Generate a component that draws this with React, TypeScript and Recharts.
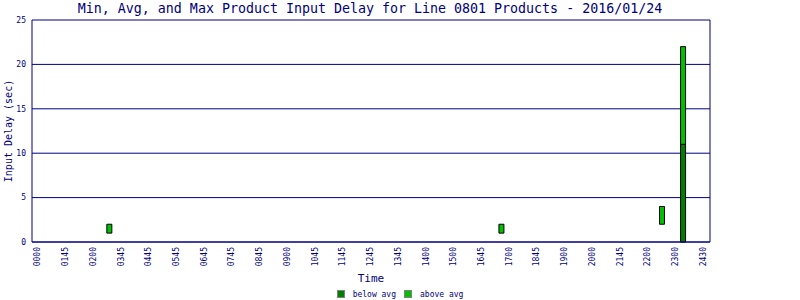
import React from 'react';
import { BarChart, Bar, XAxis, YAxis, CartesianGrid, Legend, Label } from 'recharts';

const NAVY = '#000080';
const MONO = '"DejaVu Sans Mono", monospace';

// tick labels as they appear under the x axis
const slotLabels = [
  '0000', '0145', '0200', '0345', '0445', '0545', '0645', '0745', '0845', '0900',
  '1045', '1145', '1245', '1345', '1400', '1500', '1645', '1700', '1845', '1900',
  '2000', '2145', '2200', '2300', '2430',
];

// position of each reading along the slot axis, and its delays (sec)
const slots = [2.58, 16.72, 22.51, 23.27];
const minDelay = [1, 1, 2, 0];
const avgDelay = [1, 1, 2, 11];
const maxDelay = [2, 2, 4, 22];

const yTicks = [0, 5, 10, 15, 20, 25];

const rows = slots.map((slot, i) => ({
  slot,
  base: minDelay[i],
  below: avgDelay[i] - minDelay[i],
  above: maxDelay[i] - avgDelay[i],
}));

const SlotTick = (props: any) => {
  const { x, y, payload } = props;
  return (
    <text
      x={x}
      y={y}
      transform={`rotate(-90 ${x} ${y})`}
      textAnchor="end"
      dominantBaseline="central"
      fontSize={8}
      fontFamily={MONO}
      fill={NAVY}
    >
      {slotLabels[payload.value]}
    </text>
  );
};

const YTitle = (props: any) => {
  const { viewBox } = props;
  const x = viewBox.x + 8;
  const y = viewBox.y + viewBox.height / 2;
  return (
    <text
      x={x}
      y={y}
      transform={`rotate(-90 ${x} ${y})`}
      textAnchor="middle"
      dominantBaseline="central"
      fontSize={10}
      fontFamily={MONO}
      fill={NAVY}
    >
      Input Delay (sec)
    </text>
  );
};

const XTitle = (props: any) => {
  const { viewBox } = props;
  return (
    <text
      x={viewBox.x + viewBox.width / 2}
      y={viewBox.y + 40}
      textAnchor="middle"
      fontSize={11}
      fontFamily={MONO}
      fill={NAVY}
    >
      Time
    </text>
  );
};

const legendItems = [
  { label: 'below avg', color: '#008000' },
  { label: 'above avg', color: '#00C000' },
];

const LegendBox = () => (
  <div
    style={{
      display: 'flex',
      justifyContent: 'center',
      alignItems: 'center',
      height: 14,
      paddingTop: 2,
      boxSizing: 'border-box',
      fontFamily: MONO,
      fontSize: 8,
      color: NAVY,
    }}
  >
    {legendItems.map((it) => (
      <div key={it.label} style={{ display: 'flex', alignItems: 'center', margin: '0 4px' }}>
        <span
          style={{
            width: 6,
            height: 6,
            background: it.color,
            border: '1px solid #808080',
            marginRight: 8,
          }}
        />
        <span>{it.label}</span>
      </div>
    ))}
  </div>
);

const App = () => {
  return (
    <div style={{ position: 'absolute', left: 0, top: 0, width: 800, height: 300, background: '#fff' }}>
      <div
        style={{
          position: 'absolute',
          left: 0,
          top: 1,
          width: 740,
          textAlign: 'center',
          fontFamily: MONO,
          fontSize: 13.3,
          lineHeight: '16px',
          color: NAVY,
        }}
      >
        Min, Avg, and Max Product Input Delay for Line 0801 Products - 2016/01/24
      </div>
      <BarChart
        width={800}
        height={300}
        data={rows}
        margin={{ top: 20, right: 0, bottom: 0, left: 0 }}
      >
        <CartesianGrid vertical={false} stroke={NAVY} />
        <XAxis
          dataKey="slot"
          type="number"
          domain={[-0.21, 24.24]}
          allowDataOverflow
          ticks={slotLabels.map((_, i) => i)}
          interval={0}
          height={44}
          tickLine={false}
          tickSize={0}
          tickMargin={5}
          axisLine={{ stroke: NAVY }}
          tick={<SlotTick />}
        >
          <Label content={<XTitle />} />
        </XAxis>
        <YAxis
          domain={[0, 25]}
          ticks={yTicks}
          interval={0}
          width={32}
          tickLine={false}
          tickSize={0}
          tickMargin={6}
          axisLine={{ stroke: NAVY }}
          tick={{ fontSize: 8, fontFamily: MONO, fill: NAVY }}
        >
          <Label content={<YTitle />} />
        </YAxis>
        <YAxis
          yAxisId="right"
          orientation="right"
          domain={[0, 25]}
          width={90}
          tick={false}
          tickLine={false}
          axisLine={{ stroke: NAVY }}
        />
        <Legend verticalAlign="bottom" content={<LegendBox />} wrapperStyle={{ left: 0, width: 800 }} />
        <Bar dataKey="base" stackId="d" fill="transparent" barSize={5} legendType="none" isAnimationActive={false} />
        <Bar dataKey="below" stackId="d" fill="#008000" stroke="#000" barSize={5} isAnimationActive={false} />
        <Bar dataKey="above" stackId="d" fill="#00C000" stroke="#000" barSize={5} isAnimationActive={false} />
      </BarChart>
    </div>
  );
};

export default App;
